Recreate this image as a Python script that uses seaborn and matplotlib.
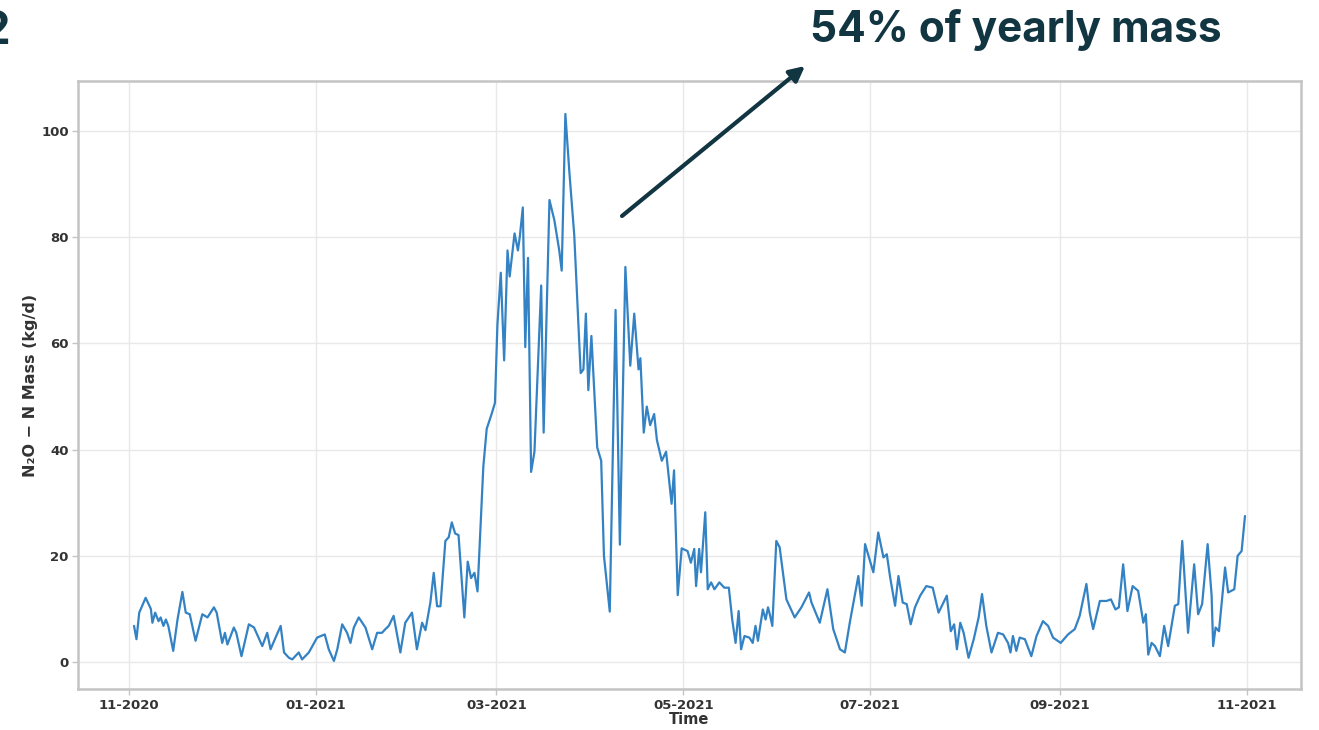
import pandas as pd
import matplotlib.pyplot as plt
import matplotlib.dates as mdates
import seaborn as sns

# days after 2020-11-01
day_offset = [
    1.6, 2.4, 3.3, 5.4, 7.1, 7.6, 8.5, 9.6, 10.3, 11.2, 12.0, 12.8, 14.4, 15.8, 17.4, 18.5,
    19.8, 21.7, 23.9, 25.6, 27.7, 28.6, 30.4, 31.3, 32.1, 34.2, 35.0, 36.7, 39.1, 40.8, 43.5,
    45.1, 46.2, 47.6, 49.5, 50.6, 52.2, 53.3, 55.4, 56.5, 58.7, 61.4, 63.9, 65.2, 66.9, 68.0,
    69.6, 71.2, 72.3, 73.4, 75.0, 77.2, 79.4, 81.0, 82.6, 83.7, 84.8, 86.4, 88.6, 90.2, 92.4,
    94.0, 95.7, 96.8, 98.4, 99.5, 100.6, 101.7, 103.3, 104.4, 105.4, 106.5, 107.6, 109.5,
    110.6, 111.7, 112.8, 113.8, 115.7, 116.8, 118.4, 119.5, 120.3, 121.4, 122.5, 123.6,
    124.3, 125.9, 127.0, 127.6, 128.6, 129.4, 130.3, 131.3, 132.4, 134.6, 135.4, 137.3,
    138.9, 140.5, 141.3, 142.5, 143.8, 145.4, 147.5, 148.4, 149.2, 150.0, 151.0, 152.9,
    154.2, 155.1, 157.0, 158.9, 160.3, 162.1, 163.7, 165.0, 166.4, 167.0, 168.1, 169.1,
    170.2, 171.5, 172.4, 174.0, 175.4, 177.2, 178.0, 179.2, 180.5, 182.4, 183.5, 184.6,
    185.2, 186.2, 186.8, 188.2, 189.0, 190.1, 191.2, 192.8, 194.4, 195.9, 197.0, 198.1,
    199.1, 199.9, 201.0, 202.6, 203.7, 204.6, 205.4, 207.0, 207.9, 208.7, 209.4, 210.1,
    211.4, 212.5, 214.7, 217.4, 219.6, 222.1, 222.9, 225.6, 228.1, 230.0, 232.2, 233.8,
    235.4, 238.2, 239.3, 240.4, 242.0, 243.1, 244.7, 246.4, 247.5, 248.6, 250.2, 251.3,
    252.7, 254.0, 255.3, 256.7, 258.4, 260.4, 262.5, 264.4, 267.1, 268.4, 269.5, 270.4,
    271.5, 272.6, 274.2, 275.9, 277.5, 278.6, 280.0, 281.7, 283.8, 285.5, 287.1, 287.9,
    288.7, 289.8, 290.9, 292.6, 294.7, 296.4, 298.5, 300.2, 301.8, 304.3, 306.7, 308.9,
    310.5, 312.7, 313.8, 314.9, 317.1, 319.3, 320.7, 322.2, 323.3, 324.7, 326.1, 327.8,
    329.6, 331.3, 332.1, 332.9, 334.0, 335.1, 336.7, 338.1, 339.4, 341.6, 342.7, 344.0,
    345.9, 347.9, 349.2, 350.5, 352.3, 353.6, 354.1, 354.9, 356.0, 358.0, 359.0, 361.0,
    362.1, 363.4, 364.5,
]

# N2O-N mass in kg/d
mass = [
    6.8, 4.3, 9.3, 12.1, 10.0, 7.4, 9.3, 7.7, 8.4, 6.8, 8.0, 6.8, 2.1, 8.0, 13.2, 9.3,
    9.0, 4.0, 9.0, 8.4, 10.3, 9.3, 3.6, 5.5, 3.3, 6.5, 5.5, 1.1, 7.1, 6.5, 3.0,
    5.5, 2.4, 4.3, 6.8, 1.8, 0.8, 0.5, 1.8, 0.5, 1.8, 4.6, 5.2, 2.4, 0.2, 2.4,
    7.1, 5.5, 3.6, 6.5, 8.4, 6.5, 2.4, 5.5, 5.5, 6.2, 6.8, 8.7, 1.8, 7.4, 9.3,
    2.4, 7.4, 6.0, 11.2, 16.8, 10.5, 10.5, 22.8, 23.5, 26.3, 24.2, 23.9, 8.4,
    18.9, 15.8, 16.8, 13.3, 36.8, 43.9, 46.7, 48.8, 63.5, 73.3, 56.8, 77.5,
    72.6, 80.7, 77.5, 80.0, 85.6, 59.3, 76.1, 35.8, 39.6, 70.9, 43.2, 87.0,
    83.2, 77.5, 73.7, 103.2, 92.3, 80.4, 54.4, 55.1, 65.6, 51.2, 61.4, 40.4,
    37.9, 20.0, 9.5, 66.3, 22.1, 74.4, 55.8, 65.6, 55.1, 57.2, 43.2, 48.1,
    44.6, 46.7, 41.8, 37.9, 39.6, 29.8, 36.1, 12.6, 21.4, 20.9, 18.7, 21.3,
    14.3, 21.3, 16.9, 28.2, 13.7, 15.0, 13.7, 15.0, 14.0, 14.0, 8.0, 3.6,
    9.6, 2.4, 4.9, 4.6, 3.6, 6.8, 4.0, 9.9, 8.0, 10.3, 8.7, 6.8,
    22.8, 21.6, 11.8, 8.4, 10.3, 13.1, 11.2, 7.4, 13.7, 6.2, 2.4, 1.8,
    7.4, 16.2, 10.6, 22.2, 19.1, 16.9, 24.4, 19.7, 20.3, 15.9, 10.6, 16.2,
    11.2, 10.9, 7.1, 10.3, 12.5, 14.3, 14.0, 9.3, 12.5, 5.8, 7.1, 2.4,
    7.4, 5.5, 0.8, 4.3, 8.4, 12.8, 6.8, 1.8, 5.5, 5.2, 3.6, 1.8,
    4.9, 2.1, 4.6, 4.3, 1.1, 4.9, 7.7, 6.8, 4.6, 3.6, 5.2, 6.2,
    8.7, 14.7, 9.3, 6.2, 11.5, 11.5, 11.8, 9.9, 10.3, 18.4, 9.6, 14.3,
    13.4, 7.4, 9.0, 1.4, 3.6, 3.0, 1.1, 6.8, 3.0, 10.6, 10.9, 22.8,
    5.5, 18.4, 9.0, 10.9, 22.2, 12.5, 3.0, 6.5, 5.8, 17.8, 13.1, 13.7,
    20.0, 20.9, 27.5,
]

NAVY = "#123542"

sns.set_style("whitegrid", {
    "axes.edgecolor": "#c4c4c4",
    "grid.color": "#e8e8e8",
    "xtick.bottom": True,
    "ytick.left": True,
})
plt.rcParams["font.family"] = ["DejaVu Sans"]

df = pd.DataFrame({
    "Time": pd.Timestamp("2020-11-01") + pd.to_timedelta(day_offset, unit="D"),
    "mass": mass,
})

fig = plt.figure(figsize=(13.19, 7.3), dpi=100)
ax = fig.add_axes([0.0595, 0.056, 0.9265, 0.833])

sns.lineplot(data=df, x="Time", y="mass", ax=ax, color="#3382c4", linewidth=1.6)

ax.set_ylim(-5.1, 109.4)
ax.xaxis.set_major_locator(mdates.MonthLocator(bymonth=[1, 3, 5, 7, 9, 11]))
ax.xaxis.set_major_formatter(mdates.DateFormatter("%m-%Y"))
ax.tick_params(axis="both", labelsize=9.5, colors="#c4c4c4", labelcolor="#333333",
               length=4, width=1, pad=3)
for lab in ax.get_xticklabels() + ax.get_yticklabels():
    lab.set_fontweight("bold")
for s in ax.spines.values():
    s.set_linewidth(1.8)
ax.grid(True, linewidth=1)

ax.set_xlabel("Time", fontsize=10.5, fontweight="bold", color="#333333", labelpad=0)
ax.set_ylabel("N\u2082O \u2212 N Mass (kg/d)", fontsize=11.5, fontweight="bold",
              color="#333333", labelpad=2)

# annotation arrow and text on top
ax.annotate("", xy=(805 / 1319, 1 - 66 / 730), xycoords="figure fraction",
            xytext=(622 / 1319, 1 - 216 / 730), textcoords="figure fraction",
            arrowprops=dict(arrowstyle="-|>,head_length=0.9,head_width=0.45",
                        color=NAVY, lw=3, shrinkA=0, shrinkB=0))
fig.text(1016 / 1319, 1 - 42 / 730, "54% of yearly mass", fontsize=30.5,
         fontweight="bold", family=["Inter", "DejaVu Sans"], color=NAVY,
         ha="center", va="baseline")
# panel number, cut at the left edge as in the original slide
fig.text(10 / 1319, 1 - 44 / 730, "2", fontsize=34, fontweight="bold",
         family=["Inter", "DejaVu Sans"], color=NAVY, ha="right", va="baseline")

fig.savefig("out.png", dpi=100)
